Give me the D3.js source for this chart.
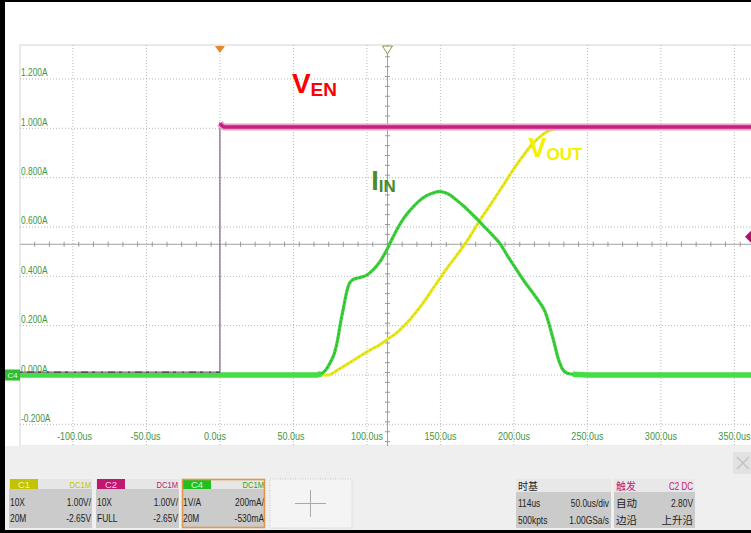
<!DOCTYPE html>
<html><head><meta charset="utf-8">
<script src="https://cdn.jsdelivr.net/npm/d3@7"></script>
<style>
html,body{margin:0;padding:0;background:#fff;overflow:hidden;}
svg{display:block;font-family:"Liberation Sans",Arial,sans-serif;}
</style></head><body>
<svg id="c" width="751" height="533"></svg>
<script>
// ---------- data ----------
const yTicks = [-0.2, 0, 0.2, 0.4, 0.6, 0.8, 1.0, 1.2];
const xTicks = [-100, -50, 0, 50, 100, 150, 200, 250, 300, 350];
const timeCenter = 114;      // us (timebase delay)
const ampCenter = 0.53;      // A  (C4 offset 530mA)

// IIN (A) vs time (us)
const iinSeries = [[-136,0],[66,0],[69,0.005],[72,0.02],[75,0.05],[78,0.09],[80,0.14],[82,0.21],[84,0.27],[86,0.33],[88,0.37],[90,0.385],[93,0.392],[97,0.398],[100,0.405],[104,0.425],[107,0.445],[110,0.47],[113.4,0.506],[117,0.55],[120,0.585],[125,0.635],[130,0.672],[135,0.703],[140,0.725],[145,0.738],[149,0.743],[153,0.74],[157,0.728],[161,0.709],[166,0.684],[170,0.661],[175,0.632],[179,0.607],[185,0.57],[190,0.537],[196,0.48],[202,0.425],[207,0.38],[213,0.332],[218,0.29],[221,0.26],[224,0.205],[227,0.14],[230,0.07],[233,0.025],[236,0.008],[240,0.003],[250,0],[362,0]];
// VOUT (display units) vs time (us)
const voutSeries = [[-136,0],[74,0],[76,0.005],[80,0.02],[88,0.049],[95,0.075],[102,0.101],[108,0.12],[113.4,0.142],[120,0.17],[129,0.223],[138,0.29],[147.4,0.372],[156,0.445],[165.3,0.519],[171,0.57],[176.9,0.628],[184,0.69],[190.5,0.749],[195,0.79],[199.3,0.83],[204,0.87],[209,0.91],[213,0.939],[217,0.962],[222,0.985],[226,0.995],[230,1.0],[362,1.0]];
// VEN (display units) vs time (us)
const venSeries = [[-136,0.012],[0,0.012],[0,1.02],[1.5,1.01],[3,1.005],[362,1.005]];

const traceLabels = [
  {main:"V", sub:"EN", t:49, v:1.145},
  {main:"V", sub:"OUT", t:210, v:0.885},
  {main:"I", sub:"IN", t:103, v:0.75}
];

const chNames = ["C1","C2","C4"];
const chCoupling = ["DC1M","DC1M","DC1M"];
const chRow1Left = ["10X","10X","1V/A"];
const chRow1Right = ["1.00V/","1.00V/","200mA/"];
const chRow2Left = ["20M","FULL","20M"];
const chRow2Right = ["-2.65V","-2.65V","-530mA"];

const tbHeader = ["时基",""];
const tbRows = [["114us","50.0us/div"],["500kpts","1.00GSa/s"]];
const trigHeader = ["触发","C2 DC"];
const trigRows = [["自动","2.80V"],["边沿","上升沿"]];

// ---------- styles ----------
const chFill = ["#c3c300","#c0186e","#1fbf1f"];
const chText = ["#f2f2b8","#f8d0e6","#d6ffd6"];
const chCoupleCol = ["#c3c300","#c0186e","#22aa22"];
const labelGreen = "#3f963f";

const svg = d3.select("#c");
const L = 20, R = 752, T = 45, B = 446;
const x = d3.scaleLinear().domain([-136, 362]).range([L, R]);
const y = d3.scaleLinear().domain([-0.2878, 1.3378]).range([B, T]);
const hy = s => s.replace(/\u2212/g, "-");

function stext(g, px, py, str, o) {
  o = Object.assign({size:10, sx:0.85, anchor:"start", fill:"#222", weight:"normal"}, o||{});
  return g.append("text")
    .attr("transform", `translate(${px},${py}) scale(${o.sx},1)`)
    .attr("text-anchor", o.anchor)
    .attr("font-size", o.size)
    .attr("font-weight", o.weight)
    .attr("fill", o.fill)
    .text(str);
}

// background
svg.append("rect").attr("width",751).attr("height",533).attr("fill","#fff");

// plot frame
svg.append("rect").attr("x",L).attr("y",T).attr("width",R-L).attr("height",B-T)
  .attr("fill","#fff").attr("stroke","#d6d6d6").attr("stroke-width",1);

// grid
const grid = svg.append("g");
grid.selectAll("line.gx").data(xTicks).join("line")
  .attr("x1",d=>x(d)).attr("x2",d=>x(d)).attr("y1",T).attr("y2",B)
  .attr("stroke","#b8b8b8").attr("stroke-width",1).attr("stroke-dasharray","1,2");
grid.selectAll("line.gy").data(yTicks).join("line")
  .attr("x1",L).attr("x2",R).attr("y1",d=>y(d)).attr("y2",d=>y(d))
  .attr("stroke","#b8b8b8").attr("stroke-width",1).attr("stroke-dasharray","1,2");

// center cross with minor ticks
const cx = x(timeCenter), cy = y(ampCenter);
grid.append("line").attr("x1",L).attr("x2",R).attr("y1",cy).attr("y2",cy).attr("stroke","#a0a0a0");
grid.append("line").attr("x1",cx).attr("x2",cx).attr("y1",T).attr("y2",B).attr("stroke","#a0a0a0");
const hTicks = d3.range(-25, 25).map(k => timeCenter + k*10).filter(t => x(t) > L && x(t) < R);
grid.selectAll("line.ht").data(hTicks).join("line")
  .attr("x1",d=>x(d)).attr("x2",d=>x(d)).attr("y1",cy-2.5).attr("y2",cy+2.5).attr("stroke","#999");
const vTicks = d3.range(-25, 25).map(k => ampCenter + k*0.04).filter(v => y(v) > T+3 && y(v) < B);
grid.selectAll("line.vt").data(vTicks).join("line")
  .attr("x1",cx-2.5).attr("x2",cx+2.5).attr("y1",d=>y(d)).attr("y2",d=>y(d)).attr("stroke","#999");

// axis labels
const lab = svg.append("g");
yTicks.forEach(v => stext(lab, 21, y(v)-2.5, hy(d3.format(".3f")(v))+"A", {size:10.5, sx:0.8, fill:labelGreen}));
xTicks.forEach(t => stext(lab, x(t)-16, 440, hy(d3.format(".1f")(t))+"us", {size:10.5, sx:0.86, fill:labelGreen}));

// traces
const clip = svg.append("clipPath").attr("id","pc").append("rect")
  .attr("x",L).attr("y",T).attr("width",R-L).attr("height",B-T);
const tr = svg.append("g").attr("clip-path","url(#pc)");
const line = d3.line().x(d=>x(d[0])).y(d=>y(d[1]));
const smooth = d3.line().x(d=>x(d[0])).y(d=>y(d[1])).curve(d3.curveMonotoneX);

// VOUT (yellow)
tr.append("path").attr("d",smooth(voutSeries)).attr("fill","none")
  .attr("stroke","#e8e81a").attr("stroke-width",3).attr("stroke-linejoin","round");
tr.append("path").attr("d",smooth(voutSeries.filter(d=>d[0]>74 && d[0]<232))).attr("fill","none")
  .attr("stroke","#b8b000").attr("stroke-width",1).attr("stroke-dasharray","1.5,3").attr("opacity",0.7);

// IIN (green)
const flatA = iinSeries.filter(d=>d[0]<=69), flatB = iinSeries.filter(d=>d[0]>=240);
tr.append("path").attr("d",smooth(iinSeries)).attr("fill","none")
  .attr("stroke","#3cd23c").attr("stroke-width",3.2).attr("stroke-linejoin","round");
[flatA, flatB].forEach(s => tr.append("path").attr("d",line(s)).attr("fill","none")
  .attr("stroke","#45dd45").attr("stroke-width",5.5));
tr.append("path").attr("d",smooth(iinSeries.filter(d=>d[0]>68 && d[0]<242))).attr("fill","none")
  .attr("stroke","#1f7f1f").attr("stroke-width",1).attr("stroke-dasharray","1.5,2.5").attr("opacity",0.6);

// VEN (magenta)
tr.append("path").attr("d",line(venSeries)).attr("fill","none")
  .attr("stroke","#8c6a8c").attr("stroke-width",1.3);
const venHigh = venSeries.filter(d=>d[1]>0.5);
tr.append("path").attr("d",line(venHigh)).attr("fill","none")
  .attr("stroke","#eaa0cc").attr("stroke-width",7);
tr.append("path").attr("d",line(venHigh)).attr("fill","none")
  .attr("stroke","#c8207f").attr("stroke-width",3.5);
const venLow = venSeries.filter(d=>d[1]<0.5);
tr.append("path").attr("d",line(venLow)).attr("fill","none")
  .attr("stroke","#3a2a3a").attr("stroke-width",1.3).attr("stroke-dasharray","2,5,7,4,3,6").attr("opacity",0.8);

// trace labels
const tl = svg.append("g").attr("font-weight","bold");
const tlCol = ["#ff0000","#f2f200","#4b8b2b"];
const tlMain = [28, 27, 27], tlSub = [19, 17, 17], tlDrop = [3, 3, 2];
traceLabels.forEach((d,i) => {
  const t = tl.append("text").attr("x",x(d.t)).attr("y",y(d.v)).attr("fill",tlCol[i]);
  t.append("tspan").attr("font-size",tlMain[i]).text(d.main);
  t.append("tspan").attr("font-size",tlSub[i]).attr("dy",tlDrop[i]).text(d.sub);
});

// markers
svg.append("polygon").attr("points",`${x(0)-5},${T+1} ${x(0)+5},${T+1} ${x(0)},${T+8}`).attr("fill","#e08a30");
svg.append("polygon").attr("points",`${cx-5},${T+1} ${cx+5},${T+1} ${cx},${T+9}`)
  .attr("fill","#fff").attr("stroke","#8a9a50").attr("stroke-width",1);
svg.append("polygon").attr("points",`745,${y(0.56)} 751,${y(0.56)-6} 757,${y(0.56)} 751,${y(0.56)+6}`).attr("fill","#b0106a");
svg.append("rect").attr("x",5).attr("y",y(0)-5.5).attr("width",15).attr("height",11).attr("fill","#2ebd2e");
svg.append("text").attr("x",12.5).attr("y",y(0)+3).attr("text-anchor","middle").attr("font-size",8).attr("fill","#e6ffe6").text("C4");

// bottom panel
const bp = svg.append("g");
bp.append("rect").attr("x",5).attr("y",B).attr("width",746).attr("height",84).attr("fill","#efefef");
bp.append("rect").attr("x",733).attr("y",452).attr("width",18).attr("height",22).attr("fill","#e2e2e2");
bp.append("path").attr("d","M737,457 L749,469 M749,457 L737,469").attr("stroke","#c4c4c4").attr("stroke-width",1.5);

const boxX = [9, 96, 182], boxW = 83, boxY = 479, boxH = 49;
chNames.forEach((nm,i) => {
  const g = bp.append("g");
  const bx = boxX[i];
  g.append("rect").attr("x",bx).attr("y",boxY).attr("width",boxW).attr("height",boxH).attr("fill","#cbcbcb");
  g.append("rect").attr("x",bx).attr("y",boxY).attr("width",boxW).attr("height",10).attr("fill","#e6e6e6");
  g.append("rect").attr("x",bx+1).attr("y",boxY).attr("width",28).attr("height",10).attr("fill",chFill[i]);
  g.append("text").attr("x",bx+15).attr("y",boxY+8.5).attr("text-anchor","middle").attr("font-size",9.5).attr("fill",chText[i]).text(nm);
  stext(g, bx+boxW-1, boxY+8.5, chCoupling[i], {size:9.5, sx:0.8, anchor:"end", fill:chCoupleCol[i]});
  stext(g, bx+1, 505.5, chRow1Left[i], {size:10.5, sx:0.8});
  stext(g, bx+boxW-1, 505.5, chRow1Right[i], {size:10.5, sx:0.8, anchor:"end"});
  stext(g, bx+1, 522, chRow2Left[i], {size:10.5, sx:0.8});
  stext(g, bx+boxW-1, 522, chRow2Right[i], {size:10.5, sx:0.8, anchor:"end"});
  if (i === 2) g.append("rect").attr("x",bx+0.5).attr("y",boxY+0.5).attr("width",boxW-1).attr("height",boxH-1)
    .attr("fill","none").attr("stroke","#e0974a").attr("stroke-width",1.6);
});
// empty add-channel box
bp.append("rect").attr("x",270).attr("y",boxY).attr("width",82).attr("height",boxH)
  .attr("fill","#f4f4f4").attr("stroke","#c8c8c8").attr("stroke-dasharray","1,1.5");
bp.append("path").attr("d","M295,503.5 L326,503.5 M310.5,490 L310.5,517").attr("stroke","#a8a8a8").attr("stroke-width",1);

function infoBox(bx, w, header, rows, headCol) {
  const g = bp.append("g");
  g.append("rect").attr("x",bx).attr("y",boxY).attr("width",w).attr("height",boxH).attr("fill","#cbcbcb");
  g.append("rect").attr("x",bx).attr("y",boxY).attr("width",w).attr("height",13).attr("fill","#e8e8e8");
  g.append("text").attr("x",bx+2).attr("y",boxY+10.5).attr("font-size",10)
    .attr("font-family","'Noto Sans CJK SC',sans-serif").attr("fill",headCol[0]).text(header[0]);
  stext(g, bx+w-2, boxY+10.5, header[1], {size:10, sx:0.8, anchor:"end", fill:headCol[1]});
  rows.forEach((r,k) => {
    const yy = 507 + k*16.5;
    [0,1].forEach(j => {
      const isCJK = /[\u4e00-\u9fff]/.test(r[j]);
      if (isCJK) g.append("text").attr("x", j? bx+w-2 : bx+2).attr("y",yy).attr("text-anchor", j?"end":"start")
        .attr("font-size",10.5).attr("font-family","'Noto Sans CJK SC',sans-serif").attr("fill","#222").text(r[j]);
      else stext(g, j? bx+w-2 : bx+2, yy, r[j], {size:10.5, sx:0.8, anchor: j?"end":"start"});
    });
  });
}
infoBox(516, 95, tbHeader, tbRows, ["#222","#222"]);
infoBox(614, 81, trigHeader, trigRows, ["#c0186e","#c0186e"]);

// outer black frame
svg.append("rect").attr("x",0).attr("y",0).attr("width",5).attr("height",533).attr("fill","#000");
svg.append("rect").attr("x",0).attr("y",0).attr("width",751).attr("height",2).attr("fill","#000");
svg.append("rect").attr("x",0).attr("y",530).attr("width",751).attr("height",3).attr("fill","#000");
</script>
</body></html>
